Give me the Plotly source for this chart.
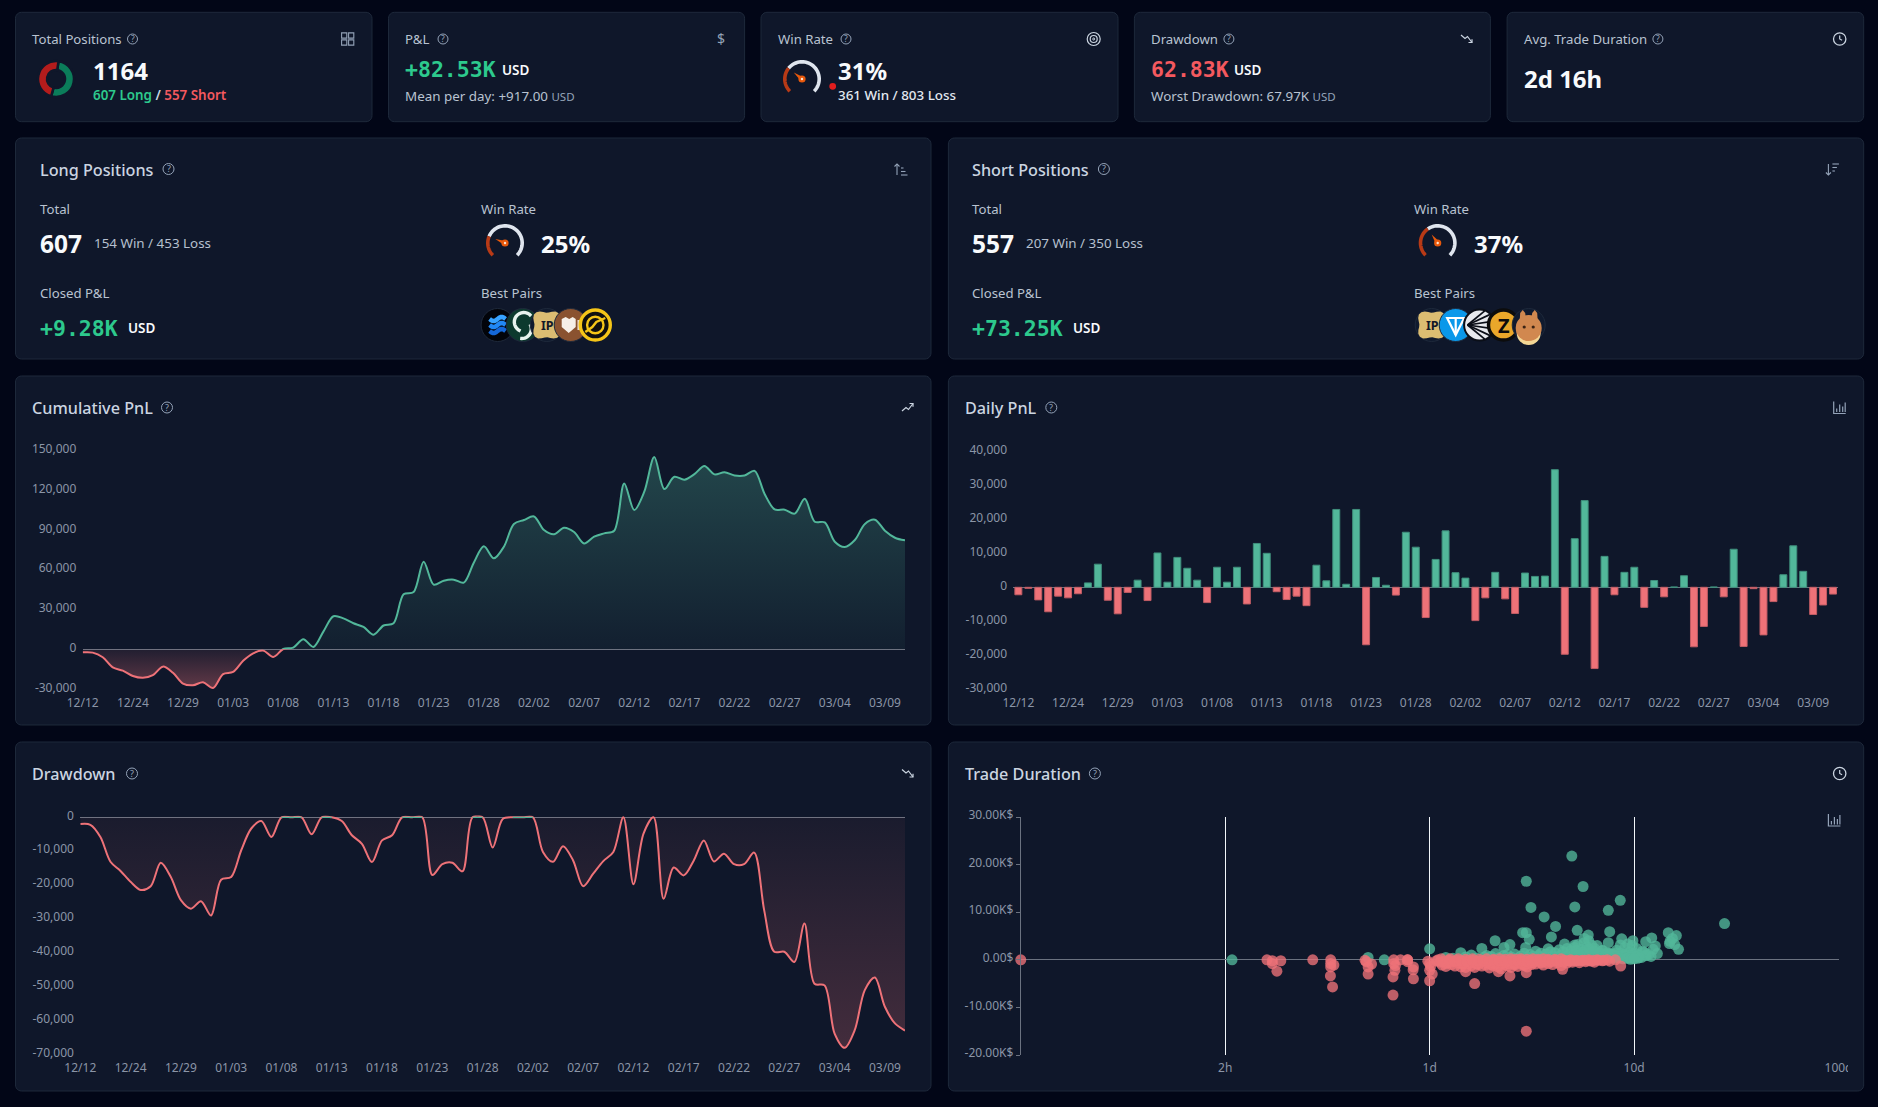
import math
import plotly.graph_objects as go

W, H = 1878, 1107

# ---------- data ----------
dates = ["12/12","12/20","12/21","12/22","12/23","12/24","12/25","12/26","12/27","12/28","12/29","12/30","12/31",
 "01/01","01/02","01/03","01/04","01/05","01/06","01/07","01/08","01/09","01/10","01/11","01/12","01/13","01/14","01/15","01/16","01/17",
 "01/18","01/19","01/20","01/21","01/22","01/23","01/24","01/25","01/26","01/27","01/28","01/29","01/30","01/31",
 "02/01","02/02","02/03","02/04","02/05","02/06","02/07","02/08","02/09","02/10","02/11","02/12","02/13","02/14","02/15","02/16","02/17",
 "02/18","02/19","02/20","02/21","02/22","02/23","02/24","02/25","02/26","02/27","02/28","03/01","03/02","03/03","03/04","03/05","03/06","03/07","03/08","03/09","03/10","03/11"]
date_ticks = ["12/12","12/24","12/29","01/03","01/08","01/13","01/18","01/23","01/28","02/02","02/07","02/12","02/17","02/22","02/27","03/04","03/09"]

cumulative = [-2.3,-2.5,-6,-13.6,-16,-20,-21.4,-19.4,-13,-17.6,-25.7,-27,-24.7,-29,-18.6,-17,-8.6,-3,-1,-5.8,0.2,1.3,7.6,1.8,13.4,25,23.4,19.7,16.9,11,18,19.7,41.6,43.3,66.3,48.9,51.9,52.7,50.4,65.5,77.9,68.8,77.6,94.8,97.8,100.5,90.2,87,92,88.7,80.1,85.2,87.7,89.7,125.5,105.3,119.2,145.4,121.2,130.5,128.3,132.5,138.6,132.3,134,131.5,131.5,135,117.5,105.8,105.6,102.6,113.9,96.5,96,81.4,77.4,82.7,94.8,98,89.7,84.4,82.4]
daily = [-2.2,-0.3,-3.7,-7.2,-2.6,-3.1,-1.9,1.3,6.8,-3.8,-7.8,-1.5,2.1,-3.9,10.1,1.5,8.8,5.6,2.1,-4.5,5.9,1.5,5.9,-4.9,12.9,10,-1.3,-3.6,-2.6,-5.4,6.5,1.9,22.9,0.9,22.9,-16.9,2.9,0.6,-2.3,16.2,11.8,-8.9,8.2,16.6,4.3,2.7,-9.8,-3.1,4.4,-3.4,-7.7,4.2,3.2,3.3,34.6,-19.7,14.3,25.5,-23.9,9.1,-2.2,4.4,5.9,-5.9,2,-2.8,0.1,3.4,-17.5,-11.5,0.1,-2.8,11.2,-17.4,-0.4,-14,-4.2,3.7,12.2,4.7,-8,-5.2,-2]
drawdown = [-2,-2.2,-5.8,-13.1,-15.8,-19,-21.4,-20.3,-13.4,-17.6,-24.4,-26.9,-24.7,-28.9,-18.4,-17.6,-9.7,-3.3,-1.1,-5.8,0,0,0,-5,0,0,-1.1,-5.3,-7.8,-13.2,-6.8,-5.3,0,0,0,-17,-13.8,-13.4,-15.9,0,0,-8.9,-0.5,0,0,0,-10.2,-13.1,-8.5,-12.7,-20.3,-16.6,-12.9,-10.2,0,-19.7,-4.8,0,-24,-14.8,-17.1,-12.7,-6.8,-13,-10.7,-13.8,-13.8,-10.4,-27.4,-39.6,-39.6,-42.6,-31.3,-49,-49.5,-63.7,-67.9,-62.7,-50.9,-47.2,-55.8,-60.7,-62.8]

win_days = [0.108,1.0,4.96,2.97,5.63,8.56,3.13,5.13,7.48,3.63,4.13,27.7,2.85,2.97,5.27,7.6,14.7,16.1,2.09,3.94,3.07,5.97,5.7,8.7,9.87,12.2,15.4,2.47,2.31,1.8,4.57,5.13,7.48,8.56,11.4,12.7,14.9,16.5,13,3.8,2.95,1.42,0.5,0.6,11.4,9.6,
 1.2,1.3,1.5,1.6,1.7,1.85,1.9,2.0,2.1,2.2,2.3,2.4,2.5,2.6,2.7,2.8,2.9,3.0,3.1,3.2,3.3,3.4,3.5,3.6,3.7,3.9,4.0,4.1,4.2,4.3,4.4,4.5,4.6,4.7,4.8,4.9,5.0,5.1,5.2,5.3,5.4,5.5,5.6,5.7,5.8,5.9,6.0,6.1,6.2,6.3,6.4,6.5,6.6,6.8,7.0,7.2,7.4,7.6,7.8,8.0,8.2,8.4,8.6,8.8,9.0,9.2,9.4,9.6,9.8,10,10.3,10.6,10.9,11.2,11.5,11.8,12.1,12.4,10.1,10.4,9.3,15.0,15.8,11.0,
 5.0,5.4,5.8,6.2,6.6,7.0,7.4,7.8,8.2,8.6,9.0,9.4,9.8,10.2,10.6,5.2,5.6,6.0,6.4,6.8,7.2,7.6,8.0,8.4,8.8,9.2,9.6,10.0]
win_pnl = [0,2.3,21.8,16.5,15.4,12.5,11,11.1,10.4,9,7,7.6,5.7,5.7,6.2,5.9,5.7,5.1,4,4.8,4.3,5.2,4.5,4.4,4,4.6,4.5,3.2,2.6,2.4,3.3,3.1,3.6,3.1,3.8,2.9,3.4,2.2,1.3,2.3,2.6,1.5,0.5,0,1,0.3,
 0.5,0.3,0.6,1.0,0.4,0.6,0.9,0.7,1.3,0.5,0.9,1.1,0.6,1.2,0.4,0.8,1.4,0.5,1.1,0.7,1.8,0.9,1.4,0.6,1.2,1.7,0.8,1.5,0.6,2.1,1.0,1.7,0.7,2.4,1.3,1.9,0.8,2.6,1.4,3.2,1.0,2.2,1.7,3.6,1.2,2.7,4.0,1.9,3.1,0.9,2.4,1.4,3.0,1.1,2.0,0.7,1.5,0.5,1.2,0.9,2.0,0.6,1.4,0.8,2.6,1.2,0.5,1.7,3.0,0.8,2.4,1.0,0.5,1.6,0.9,1.1,0.7,2.2,1.4,0.3,3.3,3.9,3.2,1.8,
 0.9,1.4,0.8,1.7,1.1,1.9,1.3,0.7,1.5,0.9,1.2,0.6,1.4,0.8,0.5,2.0,1.6,2.3,1.9,1.5,1.0,1.3,0.3,0.4,0.2,0.3,0.1,0.2]

loss_days = [0.01,0.16,0.17,0.17,0.187,0.179,0.268,0.328,0.328,0.34,0.328,0.327,0.335,0.483,0.5,0.5,0.667,0.667,0.676,0.662,0.662,0.72,0.78,0.78,0.78,0.833,0.833,0.98,1.0,1.0,1.0,1.66,2.97,2.97,2.47,4.47,8.6,1.5,2.17,0.49,0.52,0.68,0.83,1.03,1.01,
 1.1,1.12,1.15,1.18,1.2,1.22,1.25,1.28,1.3,1.33,1.36,1.4,1.42,1.45,1.48,1.5,1.53,1.56,1.6,1.63,1.66,1.7,1.73,1.76,1.8,1.84,1.88,1.92,1.96,2.0,2.04,2.08,2.12,2.16,2.2,2.24,2.28,2.32,2.36,2.4,2.44,2.5,2.55,2.6,2.65,2.7,2.75,2.8,2.85,2.9,2.95,3.0,3.05,3.1,3.15,3.2,3.3,3.4,3.5,3.6,3.7,3.8,3.9,4.0,4.1,4.2,4.3,4.4,4.5,4.6,4.7,4.8,4.9,5.0,5.2,5.4,5.6,5.8,6.0,6.2,6.4,6.6,7.0,7.4,7.6,8.1,
 1.14,1.26,1.38,1.5,1.62,1.75,1.9,2.05,2.2,2.35,2.5,2.65,2.8,3.0,3.2,3.4,3.6,3.8,4.1,4.4,1.2,1.45,1.7,2.0,2.3,2.6,2.9,3.2,3.5,
 1.08,1.16,1.24,1.32,1.42,1.52,1.62,1.72,1.82,1.94,2.06,2.18,2.3,2.42,2.56,2.7,2.84,2.98,3.12,3.28,3.44,3.6,3.78,3.96,4.15,4.35,4.55,4.75,5.0,5.25,5.5,5.75,6.05,6.35,6.7,7.1]
loss_pnl = [0,0,-0.2,-0.8,-0.2,-2.4,0,0,-0.8,-1.1,-1.5,-3.4,-5.7,-0.1,-1.5,-3,0,-0.8,-2.2,-3.6,-7.4,0,0,-0.4,0,-1.5,-4,-0.3,-2.2,-4.4,-0.8,-5,-15,-2.7,-3.4,-2,-1.3,-2.5,-2.5,-0.4,-0.9,-1.2,-2.1,-3,-1.4,
 0,-0.5,-1.1,-0.3,-1.4,-0.6,-0.2,-1.0,-0.4,-1.3,-0.1,-0.7,-1.5,-0.3,-0.9,-1.6,-0.2,-0.8,-1.2,-0.5,-1.6,-0.3,-1.0,-0.6,-1.3,-0.2,-1.1,-0.7,-1.7,-0.4,-1.2,-0.9,-0.3,-1.5,-0.6,-1.9,-0.2,-1.0,-0.5,-1.3,-0.8,-1.6,-0.3,-1.1,-0.6,-1.4,-0.1,-0.9,-0.5,-1.2,-0.3,-1.5,-0.7,-0.2,-1.0,-0.4,-0.9,-0.2,-0.7,-1.1,-0.3,-0.8,-0.4,-1.0,-0.1,-0.6,-0.3,-1.2,-0.5,-0.2,-0.7,-0.3,0,-0.5,-0.2,-0.6,-0.1,-0.4,0,-0.3,-0.5,0,-0.2,0,-0.3,0,
 0.2,0.2,0.2,0.1,0.2,0.1,0.2,0.1,0.2,0.1,0.2,0.1,0.2,0.1,0.2,0.1,0.2,0.1,0.1,0.2,-0.8,-0.9,-0.9,-1.0,-0.7,-0.9,-1.0,-0.6,-0.5,
 -0.2,-0.4,-0.1,-0.3,-0.2,-0.4,-0.1,-0.3,-0.2,-0.4,-0.1,-0.3,-0.2,-0.4,-0.1,-0.3,-0.2,-0.4,-0.1,-0.3,-0.2,-0.4,-0.1,-0.3,-0.2,-0.3,-0.1,-0.2,-0.2,-0.1,-0.2,-0.1,-0.2,-0.1,-0.1,-0.1]

# ---------- colours ----------
BG, CARD, BORDER = "#020617", "#0f172a", "#1e293b"
GREEN, RED = "#52b79a", "#ee7278"
TEXT_GREEN, TEXT_RED = "#2dc98d", "#f4595f"
TITLE, LABEL, WHITE = "#cbd5e1", "#b9c3d1", "#f8fafc"
FONT = "Noto Sans"
MONO = "DejaVu Sans Mono"

px_ = lambda x: x / W
py_ = lambda y: 1 - y / H
shapes, notes = [], []

def poly(points, close=False):
    s = "M " + " L ".join(f"{px_(x):.6f},{py_(y):.6f}" for x, y in points)
    return s + (" Z" if close else "")

def path(points, color=None, width=1.3, fill=None, close=False, layer="below"):
    shapes.append(dict(type="path", xref="paper", yref="paper", path=poly(points, close), layer=layer,
                       line=dict(color=color or "rgba(0,0,0,0)", width=width), fillcolor=fill or "rgba(0,0,0,0)"))

def arc(cx, cy, r, a0, a1, n=40):
    return [(cx + r * math.sin(math.radians(a0 + (a1 - a0) * i / n)), cy - r * math.cos(math.radians(a0 + (a1 - a0) * i / n))) for i in range(n + 1)]

def circle(cx, cy, r, fill=None, color=None, width=1.0, layer="below"):
    shapes.append(dict(type="circle", xref="paper", yref="paper", layer=layer, x0=px_(cx - r), x1=px_(cx + r), y0=py_(cy + r), y1=py_(cy - r),
                       fillcolor=fill or "rgba(0,0,0,0)", line=dict(color=color or "rgba(0,0,0,0)", width=width)))

def card(x0, y0, x1, y1, r=6):
    pts = arc(x0 + r, y0 + r, r, 270, 360, 6) + arc(x1 - r, y0 + r, r, 0, 90, 6) + arc(x1 - r, y1 - r, r, 90, 180, 6) + arc(x0 + r, y1 - r, r, 180, 270, 6)
    path(pts, BORDER, 1, CARD, True)

def T(x, y, text, size=13.2, color=LABEL, family=FONT, weight=400):
    notes.append(dict(xref="paper", yref="paper", x=px_(x), y=py_(y), text=text, showarrow=False, xanchor="left", yanchor="middle",
                      align="left", font=dict(size=size, color=color, family=family, weight=weight), borderpad=0, borderwidth=0))

def C(x, y, text, size, color):
    notes.append(dict(xref="paper", yref="paper", x=px_(x), y=py_(y), text=text, showarrow=False, xanchor="center", yanchor="middle",
                      font=dict(size=size, color=color, family=FONT), borderpad=0))

def helpicon(x, y, r=5):
    circle(x, y, r, None, "#94a3b8", 1)
    C(x, y, "?", r + 3.5, "#94a3b8")

def ic_trend(x, y, color="#cbd5e1", down=False):
    s = -1 if down else 1
    path([(x - 6, y + 4 * s), (x - 2, y + 0.5 * s), (x + 0.5, y + 2.5 * s), (x + 5, y - 3.5 * s)], color, 1.2)
    path([(x + 1.5, y - 3.5 * s), (x + 5, y - 3.5 * s), (x + 5, y - 0.2 * s)], color, 1.2)

def ic_clock(x, y, r=6.2):
    circle(x, y, r, None, "#cbd5e1", 1.3)
    path([(x, y - 3.6), (x, y), (x + 2.4, y + 1.2)], "#cbd5e1", 1.2)

def ic_bars(x, y):
    path([(x - 6, y - 6), (x - 6, y + 6), (x + 6, y + 6)], "#94a3b8", 1.2)
    for dx, top in [(-3, 1), (0, -3), (3, -1), (5.5, -5)]:
        path([(x + dx, y + 4.5), (x + dx, y + top)], "#94a3b8", 1.2)

def gauge(cx, cy, frac, r=17.2):
    a0, a1 = -135, 135
    am = a0 + (a1 - a0) * frac
    path(arc(cx, cy, r, am, a1), "#dfe5ee", 3.6)
    path(arc(cx, cy, r, a0, am), "#b83a16", 3.6)
    n, o = math.radians(am), math.radians(am + 90)
    tip = (cx + 10.5 * math.sin(n), cy - 10.5 * math.cos(n))
    side = (2.2 * math.sin(o), -2.2 * math.cos(o))
    path([tip, (cx + side[0], cy + side[1]), (cx - side[0], cy - side[1])], None, 0, "#e8590c", True)
    circle(cx, cy, 3.6, "#e8590c")
    circle(cx, cy, 1.2, "#fde4cf")

def blob(cx, cy, r=14.5, k=2.2):
    return [(cx + (r + k * math.cos(math.radians(4 * a))) * math.sin(math.radians(a + 45)), cy - (r + k * math.cos(math.radians(4 * a))) * math.cos(math.radians(a + 45))) for a in range(0, 360, 12)]

def wave(cx, y, half=8, amp=2):
    return [(cx - half + half * 2 * i / 10, y + amp * math.sin(i / 10 * 2 * math.pi)) for i in range(11)]

def coin(cx, cy, kind, r=16.5):
    ring = "#1e293b"
    if kind == "swell":
        circle(cx, cy, r, "#02040a", ring)
        for dy, col in [(-6, "#37a2ff"), (0, "#2188f5"), (6, "#1467d8")]:
            path(wave(cx, cy + dy), col, 4.5)
    elif kind == "s":
        circle(cx, cy, r, "#0c3a2e", ring)
        path(arc(cx + 1, cy - 3, 9.5, 50, -160, 16), "#e7f3ee", 3.4)
        path(arc(cx - 1, cy + 4, 9.5, 60, 190, 14), "#e7f3ee", 3.4)
    elif kind == "ip":
        circle(cx, cy, r, "#101a2e", ring)
        path(blob(cx, cy), None, 0, "#dcbd72", True)
        C(cx + 1, cy, "<b>IP</b>", 12.5, "#111827")
    elif kind == "brown":
        circle(cx, cy, r, "#8a5230", ring)
        path([(cx - 9, cy - 6), (cx - 5, cy - 8), (cx - 1.5, cy - 6), (cx + 2, cy - 8), (cx + 5, cy - 6), (cx + 5, cy + 2), (cx - 2, cy + 8), (cx - 9, cy + 2)], None, 0, "#f6efe8", True)
        path([(cx + 8, cy - 5), (cx + 8, cy + 5)], "#e9d9c9", 2.5)
    elif kind == "ring":
        circle(cx, cy, r - 1.5, "#101010", "#f5c518", 3.4)
        circle(cx, cy, 8.2, None, "#f5c518", 2.4)
        path([(cx - 10, cy + 7), (cx - 3, cy + 2), (cx + 1, cy - 3), (cx + 10, cy - 7)], "#f5c518", 2.4)
    elif kind == "ton":
        circle(cx, cy, r, "#0a98ea", ring)
        path([(cx - 8.5, cy - 7), (cx + 8.5, cy - 7), (cx, cy + 10)], "#ffffff", 2.2, None, True)
        path([(cx, cy - 7), (cx, cy + 10)], "#ffffff", 2.2)
    elif kind == "rays":
        circle(cx, cy, r - 1, "#e8eaee", "#0b0f18", 2)
        for a in [20, 45, 75, 105, 135, 160]:
            path([(cx - 12, cy), (cx + 15 * math.sin(math.radians(a)), cy - 15 * math.cos(math.radians(a)))], "#0b0f18", 1.7)
    elif kind == "z":
        circle(cx, cy, r - 1.5, "#eaa72a", "#0c0c0c", 3.4)
        C(cx, cy, "<b>Z</b>", 20, "#0c0c0c")
    elif kind == "cake":
        circle(cx, cy, r, "#101a2e", ring)
        circle(cx, cy + 8, 12, "#f4d795")
        circle(cx, cy + 3, 13, "#d1884f")
        path([(cx - 9, cy - 4), (cx - 8.5, cy - 12), (cx - 6, cy - 15), (cx - 3.5, cy - 12), (cx - 2.5, cy - 4)], None, 0, "#d1884f", True)
        path([(cx + 9, cy - 4), (cx + 8.5, cy - 12), (cx + 6, cy - 15), (cx + 3.5, cy - 12), (cx + 2.5, cy - 4)], None, 0, "#d1884f", True)
        circle(cx - 4.5, cy + 2, 1.6, "#3b2314")
        circle(cx + 4.5, cy + 2, 1.6, "#3b2314")

# ---------- cards ----------
for x0, x1 in [(15.5, 372), (388.5, 744.6), (761, 1118), (1134.4, 1490.4), (1507.1, 1863.7)]:
    card(x0, 12.3, x1, 121.7)
for y0, y1 in [(138, 359), (376, 725), (742, 1091)]:
    card(15.5, y0, 931, y1)
    card(948.4, y0, 1863.7, y1)

# ---------- stat row ----------
T(32, 39, "Total Positions"); helpicon(132.5, 39)
for dx, dy in [(-3.5, -3.5), (3.5, -3.5), (-3.5, 3.5), (3.5, 3.5)]:
    path([(347.7 + dx - 2.6, 39 + dy - 2.6), (347.7 + dx + 2.6, 39 + dy - 2.6), (347.7 + dx + 2.6, 39 + dy + 2.6), (347.7 + dx - 2.6, 39 + dy + 2.6)], "#94a3b8", 1.1, None, True)
T(93, 70.5, "<b>1164</b>", 24, WHITE)
T(92.5, 95, f'<span style="color:{TEXT_GREEN}">607 Long</span> / <span style="color:{TEXT_RED}">557 Short</span>', 13.4, "#cbd5e1", weight=600)

T(405, 39, "P&L"); helpicon(443, 39)
T(717, 39, "$", 14, "#94a3b8")
T(405, 69.5, "<b>+82.53K</b>", 21.5, TEXT_GREEN, MONO); T(502, 69.5, "USD", 13.5, WHITE, weight=600)
T(405, 95.5, 'Mean per day: +917.00 <span style="font-size:11.5px;color:#94a3b8">USD</span>', 13.4)

T(778, 39, "Win Rate"); helpicon(846, 39)
for r, wd in [(6.5, 1.2), (3.5, 1.2), (1, 1)]:
    circle(1093.7, 39, r, None, "#cbd5e1", wd)
gauge(802, 79, 0.31)
circle(832.7, 86.3, 3.4, "#e11d1d")
T(838, 70.5, "<b>31%</b>", 24, WHITE)
T(838, 95, "361 Win / 803 Loss", 13.4, "#e2e8f0", weight=500)

T(1150.6, 39, "Drawdown"); helpicon(1228.9, 39)
ic_trend(1467, 39, down=True)
T(1150.6, 69.5, "<b>62.83K</b>", 21.5, TEXT_RED, MONO); T(1234.3, 69.5, "USD", 13.5, WHITE, weight=600)
T(1150.6, 95.5, 'Worst Drawdown: 67.97K <span style="font-size:11.5px;color:#94a3b8">USD</span>', 13.4)

T(1523.9, 39, "Avg. Trade Duration"); helpicon(1657.9, 39)
ic_clock(1839.7, 39)
T(1523.9, 78.5, "<b>2d 16h</b>", 24, WHITE)

# ---------- long / short ----------
def side(x, xr, xg, xp, xu, xpct, xicon, title, xh, total, wl, frac, pct, pnl, coins, cxs, down):
    T(x, 169.5, title, 16.2, TITLE, weight=500); helpicon(xh, 169, 5.5)
    path([(xicon - 3, 164), (xicon - 3, 175)], "#94a3b8", 1.1)
    path([(xicon - 5.5, 166.5 if not down else 172.5), (xicon - 3, 164 if not down else 175), (xicon - 0.5, 166.5 if not down else 172.5)], "#94a3b8", 1.1)
    for dy, l in [(0, 2.5), (3.5, 4.5), (7, 6.5)]:
        yy = 168 + dy if not down else 171 - dy
        path([(xicon + 1, yy), (xicon + 1 + l, yy)], "#94a3b8", 1.1)
    T(x, 209, "Total"); T(x, 243.5, f"<b>{total}</b>", 24.5, WHITE); T(xp, 243, wl, 13.4, "#b6c0cf")
    T(xr, 209, "Win Rate"); gauge(xg, 243, frac); T(xpct, 243.5, f"<b>{pct}</b>", 24, WHITE)
    T(x, 293, "Closed P&L"); T(x, 328, f"<b>{pnl}</b>", 21.5, TEXT_GREEN, MONO); T(xu, 328, "USD", 13.5, WHITE, weight=600)
    T(xr, 293, "Best Pairs")
    for k, cx in zip(coins, cxs):
        coin(cx, 325, k)

side(40, 481.4, 505, 94, 127.7, 541, 900, "Long Positions", 168.5, "607", "154 Win / 453 Loss", 0.25, "25%", "+9.28K",
     ["swell", "s", "ip", "brown", "ring"], [497.6, 522.8, 546.8, 570.7, 595.3], False)
side(972.3, 1413.8, 1437.7, 1026.1, 1073.4, 1474.2, 1831.4, "Short Positions", 1103.9, "557", "207 Win / 350 Loss", 0.37, "37%", "+73.25K",
     ["ip", "ton", "rays", "z", "cake"], [1431.7, 1455.7, 1479.6, 1503.5, 1528.7], True)

# ---------- chart titles ----------
T(32, 407.5, "Cumulative PnL", 16.2, TITLE, weight=500); helpicon(167, 407.5, 5.5); ic_trend(908, 407)
T(964.5, 407.5, "Daily PnL", 16.2, TITLE, weight=500); helpicon(1051.3, 407.5, 5.5); ic_bars(1839.7, 407.5)
T(32, 773.5, "Drawdown", 16.2, TITLE, weight=500); helpicon(132, 773.5, 5.5); ic_trend(908, 773.5, down=True)
T(964.5, 773.5, "Trade Duration", 16.2, TITLE, weight=500); helpicon(1094.9, 773.5, 5.5); ic_clock(1839.7, 773.5)
ic_bars(1834.4, 820)

# ---------- figure ----------
fig = go.Figure()

fig.add_trace(go.Pie(values=[607, 557], sort=False, direction="clockwise", rotation=8, hole=0.5,
                     marker=dict(colors=["#0b7d5a", "#b41c1c"], line=dict(color=CARD, width=2.5)),
                     textinfo="none", hoverinfo="skip", showlegend=False,
                     domain=dict(x=[px_(38), px_(74)], y=[py_(97), py_(61)])))

def area(y, xa, ya, color, grad):
    fig.add_trace(go.Scatter(x=dates, y=y, xaxis=xa, yaxis=ya, mode="lines", line=dict(color=color, width=2, shape="spline", smoothing=0.9),
                             fill="tozeroy", fillgradient=grad, hoverinfo="skip", showlegend=False))

area(cumulative, "x", "y", GREEN, dict(type="vertical", start=0, stop=150, colorscale=[[0, "rgba(82,183,154,0.05)"], [1, "rgba(82,183,154,0.3)"]]))
area(cumulative, "x2", "y2", RED, dict(type="vertical", start=0, stop=-30, colorscale=[[0, "rgba(238,114,120,0.08)"], [1, "rgba(238,114,120,0.38)"]]))

fig.add_trace(go.Bar(x=dates, y=daily, xaxis="x3", yaxis="y3", showlegend=False, hoverinfo="skip",
                     marker=dict(color=[GREEN if v >= 0 else RED for v in daily],
                                 line=dict(color=["#3f8f7c" if v >= 0 else "#c05c64" for v in daily], width=1))))

area(drawdown, "x4", "y4", RED, dict(type="vertical", start=0, stop=-70, colorscale=[[0, "rgba(238,114,120,0.05)"], [1, "rgba(238,114,120,0.24)"]]))
fig.add_trace(go.Scatter(x=dates, y=[0 if v == 0 else None for v in drawdown], xaxis="x4", yaxis="y4", mode="lines", showlegend=False, hoverinfo="skip",
                         line=dict(color=GREEN, width=1.2)))

fig.add_trace(go.Scatter(x=win_days, y=win_pnl, xaxis="x5", yaxis="y5", mode="markers", cliponaxis=False, showlegend=False, hoverinfo="skip",
                         marker=dict(color=GREEN, size=11, opacity=0.78, line=dict(width=0))))
fig.add_trace(go.Scatter(x=loss_days, y=loss_pnl, xaxis="x5", yaxis="y5", mode="markers", cliponaxis=False, showlegend=False, hoverinfo="skip",
                         marker=dict(color=RED, size=11, opacity=0.78, line=dict(width=0))))

TICK = dict(size=12, color="#8b95a7", family=FONT)
AXIS_LINE = "#6b7280"

def xcat(x0, x1, rng, labels=True, line=False):
    return dict(domain=[px_(x0), px_(x1)], type="category", categoryorder="array", categoryarray=dates, range=rng,
                tickmode="array", tickvals=date_ticks if labels else [], ticktext=date_ticks if labels else [],
                showgrid=False, zeroline=False, showline=line, linecolor=AXIS_LINE, linewidth=1,
                ticks="outside", ticklen=2, tickcolor="rgba(0,0,0,0)", tickfont=TICK, fixedrange=True, tickangle=0)

def yax(y0, y1, rng, vals, text, **kw):
    d = dict(domain=[py_(y1), py_(y0)], range=rng, tickmode="array", tickvals=vals, ticktext=text, showgrid=False, zeroline=False,
             ticks="outside", ticklen=3, tickcolor="rgba(0,0,0,0)", tickfont=TICK, fixedrange=True, ticklabelshift=-2)
    d.update(kw)
    return d

fig.update_layout(
    width=W, height=H, margin=dict(l=0, r=0, t=0, b=0, autoexpand=False), autosize=False,
    paper_bgcolor=BG, plot_bgcolor="rgba(0,0,0,0)", showlegend=False, bargap=0.3,
    shapes=shapes, annotations=notes,
    xaxis=xcat(82.7, 905, [0, 82], labels=False, line=True),
    yaxis=yax(451, 649.3, [0, 150], [0, 30, 60, 90, 120, 150], ["0", "30,000", "60,000", "90,000", "120,000", "150,000"]),
    xaxis2=xcat(82.7, 905, [0, 82]),
    yaxis2=yax(649.3, 689.3, [-30, 0], [-30], ["-30,000"], anchor="x2"),
    xaxis3=xcat(1013.4, 1838, [-0.5, 82.5]),
    yaxis3=yax(451.3, 689.3, [-30, 40], [-30, -20, -10, 0, 10, 20, 30, 40],
               ["-30,000", "-20,000", "-10,000", "0", "10,000", "20,000", "30,000", "40,000"], zeroline=True, zerolinecolor=AXIS_LINE, zerolinewidth=1, anchor="x3"),
    xaxis4=xcat(80.3, 905, [0, 82]),
    yaxis4=yax(815.6, 1055, [-70, 0.5], [-70, -60, -50, -40, -30, -20, -10, 0],
               ["-70,000", "-60,000", "-50,000", "-40,000", "-30,000", "-20,000", "-10,000", "0"], zeroline=True, zerolinecolor=AXIS_LINE, zerolinewidth=1, anchor="x4"),
    xaxis5=dict(domain=[px_(1020.8), px_(1838.5)], type="log", range=[-2, 2], tickmode="array", tickvals=[0.1, 1, 10, 100],
                ticktext=["2h", "1d", "10d", "100d"], showgrid=True, gridcolor="#f1f5f9", gridwidth=1, zeroline=False, showline=False,
                ticks="outside", ticklen=2, tickcolor="rgba(0,0,0,0)", tickfont=TICK, fixedrange=True, anchor="y5"),
    yaxis5=yax(817, 1055, [-20, 30], [-20, -10, 0, 10, 20, 30], ["-20.00K$", "-10.00K$", "0.00$", "10.00K$", "20.00K$", "30.00K$"],
               zeroline=True, zerolinecolor=AXIS_LINE, zerolinewidth=1, showline=True, linecolor=AXIS_LINE, linewidth=1,
               tickcolor=AXIS_LINE, ticklen=4, anchor="x5"),
)
fig.update_layout(xaxis=dict(anchor="y"), yaxis=dict(anchor="x"), xaxis2=dict(anchor="y2"), xaxis3=dict(anchor="y3"),
                  xaxis4=dict(anchor="y4"))

fig.add_shape(type="rect", xref="paper", yref="paper", x0=px_(1848), x1=px_(1862.5), y0=py_(1082), y1=py_(1060), layer="above",
              fillcolor=CARD, line=dict(width=0))

fig.write_html("out.html", config=dict(displayModeBar=False),
               post_script="document.body.style.margin='0';document.body.style.background='#020617';document.body.style.overflow='hidden';")
